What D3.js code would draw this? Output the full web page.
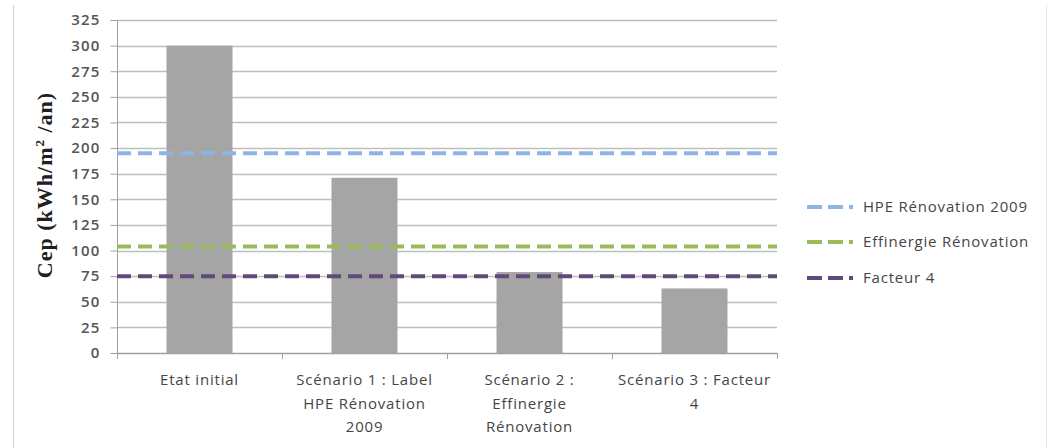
<!DOCTYPE html>
<html><head><meta charset="utf-8">
<script src="https://cdn.jsdelivr.net/npm/d3@7"></script>
<style>body{margin:0;background:#fff}svg{display:block}</style>
</head><body><svg id="c" width="1048" height="448"></svg>
<script>
const categories = [["Etat initial"],["Scénario 1 : Label","HPE Rénovation","2009"],["Scénario 2 :","Effinergie","Rénovation"],["Scénario 3 : Facteur","4"]];
const values = [300, 171, 79, 63];
const refNames = ["HPE Rénovation 2009","Effinergie Rénovation","Facteur 4"];
const refValues = [195, 104, 75];
const refColors = ["#8EB4E3","#9BBB59","#604A7B"];
const yTicks = [0,25,50,75,100,125,150,175,200,225,250,275,300,325];

const svg = d3.select("#c");
const L=117, R=777, T=20, B=353;
const x = d3.scaleBand().domain(d3.range(categories.length)).range([L,R]).paddingInner(0.6).paddingOuter(0.3);
const xb = d3.scaleBand().domain(d3.range(categories.length)).range([L,R]);
const y = d3.scaleLinear().domain([0,325]).range([B,T]);
const font = "'Open Sans', sans-serif";

// outer borders
svg.append("line").attr("x1",13.5).attr("x2",13.5).attr("y1",5).attr("y2",448).attr("stroke","#d0d0d0");
svg.append("line").attr("x1",1046.5).attr("x2",1046.5).attr("y1",5).attr("y2",448).attr("stroke","#e4e4e4");

// grid
svg.append("g").selectAll("line").data(yTicks.filter(d=>d>0)).join("line")
  .attr("x1",L).attr("x2",R).attr("y1",d=>Math.round(y(d))+0.5).attr("y2",d=>Math.round(y(d))+0.5)
  .attr("stroke","#BEBEBE").attr("stroke-width",1.5);

// y axis
const ya = svg.append("g").attr("transform",`translate(${L+0.5},0)`)
  .call(d3.axisLeft(y).tickValues(yTicks).tickSize(7).tickPadding(10));
ya.select(".domain").attr("stroke","#A0A0A0").attr("d",`M-7,${y(325)+0.5}H0V${B}`);
ya.selectAll(".tick line").attr("stroke","#A0A0A0");
ya.selectAll(".tick text").attr("font-family",font).attr("font-size",15).attr("font-weight",600)
  .attr("letter-spacing",1.2).attr("fill","#555");

// bars
svg.append("g").selectAll("rect").data(values).join("rect")
  .attr("x",(d,i)=>x(i)).attr("width",x.bandwidth())
  .attr("y",d=>y(d)).attr("height",d=>B-y(d)).attr("fill","#A5A5A5");

// x axis
svg.append("line").attr("x1",L).attr("x2",R).attr("y1",B+0.5).attr("y2",B+0.5).attr("stroke","#A0A0A0").attr("stroke-width",1.5);
svg.append("g").selectAll("line").data(d3.range(categories.length+1)).join("line")
  .attr("x1",i=>Math.round(L+i*xb.bandwidth())+0.5).attr("x2",i=>Math.round(L+i*xb.bandwidth())+0.5)
  .attr("y1",B).attr("y2",B+6).attr("stroke","#A0A0A0");
const cl = svg.append("g").selectAll("text").data(categories).join("text")
  .attr("text-anchor","middle").attr("font-family",font).attr("font-size",15).attr("letter-spacing",0.8).attr("fill","#454545")
  .attr("transform",(d,i)=>`translate(${xb(i)+xb.bandwidth()/2},385)`);
cl.selectAll("tspan").data(d=>d).join("tspan").attr("x",0).attr("y",(d,j)=>j*23.5).text(d=>d);

// reference lines
svg.append("g").selectAll("line").data(refValues).join("line")
  .attr("x1",L).attr("x2",R).attr("y1",d=>y(d)).attr("y2",d=>y(d))
  .attr("stroke",(d,i)=>refColors[i]).attr("stroke-width",4).attr("stroke-dasharray","14,7");

// y title
svg.append("text").attr("transform","translate(52,185) rotate(-90)").attr("text-anchor","middle")
  .attr("font-family","'Liberation Serif', serif").attr("font-weight","bold").attr("font-size",22).attr("letter-spacing",1).attr("fill","#202020")
  .html('Cep (kWh/m<tspan dy="-8" font-size="13">2</tspan><tspan dy="8"> /an)</tspan>');

// legend
const lg = svg.append("g").selectAll("g").data(refNames).join("g")
  .attr("transform",(d,i)=>`translate(807,${[207,242,278][i]})`);
lg.append("line").attr("x1",0).attr("x2",51).attr("y1",0).attr("y2",0)
  .attr("stroke",(d,i)=>refColors[i]).attr("stroke-width",4).attr("stroke-dasharray","15,6,15,6,4,6");
lg.append("text").attr("x",56).attr("y",0).attr("dy","0.35em").attr("font-family",font).attr("font-size",15).attr("letter-spacing",0.8).attr("fill","#454545").text(d=>d);
</script></body></html>
